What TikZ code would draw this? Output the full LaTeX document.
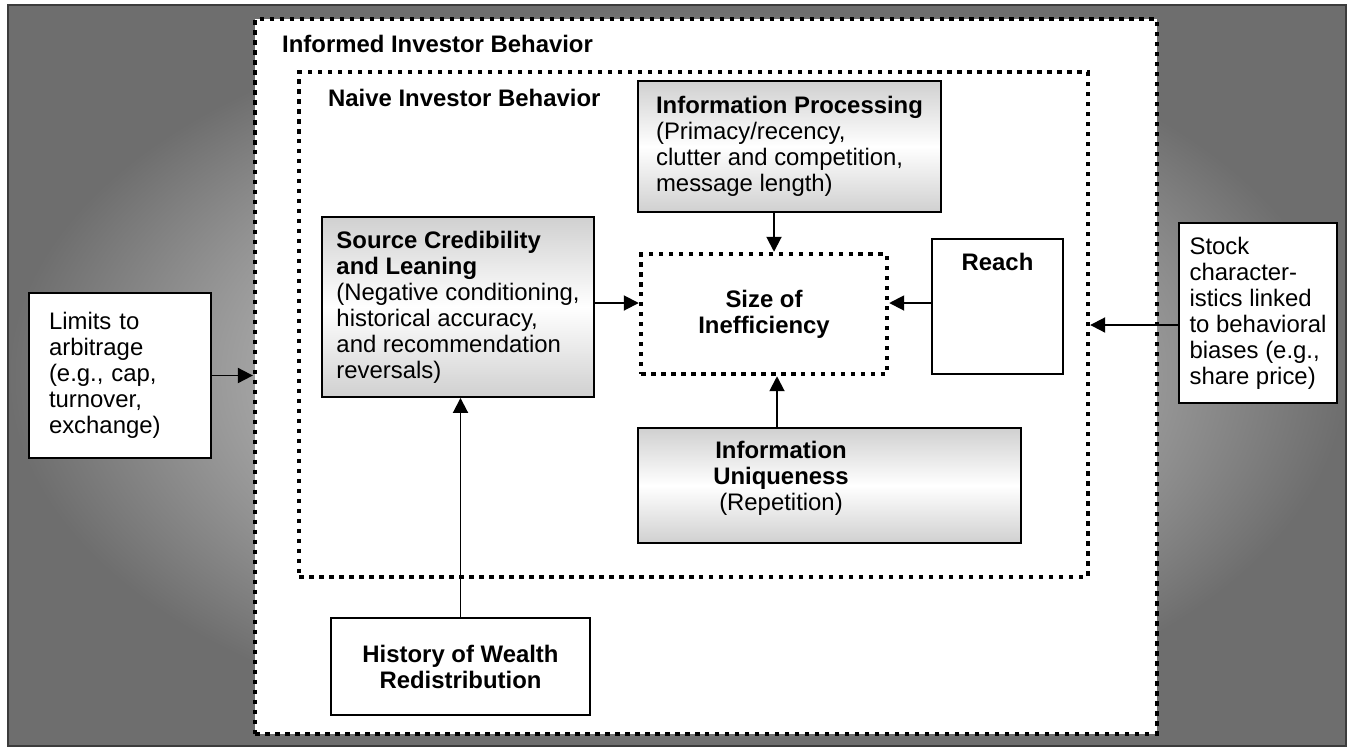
\documentclass[tikz,border=0pt]{standalone}
\usepackage{fontspec}
\setmainfont{Liberation Sans}
\definecolor{framegray}{RGB}{60,60,60}
\definecolor{bgdark}{RGB}{110,110,110}
\definecolor{bglight}{RGB}{250,250,250}
\definecolor{boxshade}{RGB}{208,208,208}
\usetikzlibrary{arrows.meta}
\newcommand{\diagfont}{\fontsize{13.6}{14.8}\selectfont}

\begin{document}
\begin{tikzpicture}[
  x=0.02cm, y=-0.02cm, font=\diagfont,
  zone/.style={draw=black, line width=0.09cm, dash pattern=on 0.09cm off 0.11cm, fill=white},
  gbox/.style={draw=black, line width=1.1pt, top color=boxshade, bottom color=boxshade,
    middle color=white, align=left},
  wbox/.style={draw=black, line width=1.1pt, fill=white, align=left},
  hdr/.style={font=\diagfont\bfseries},
  arw/.style={-{Triangle[length=0.3cm, width=0.3cm]}, line width=1.1pt},
]
\useasboundingbox (0,0) rectangle (1349,748);
\shade[inner color=bglight, outer color=bgdark, draw=framegray, line width=1.2pt] (8,5) rectangle (1346,746);

\node[zone, minimum width=18.04cm, minimum height=14.30cm] (informed) at (706,376.5) {};
\node[zone, minimum width=15.78cm, minimum height=10.10cm] (naive) at (693.5,324.5) {};
\node[hdr, anchor=base west] (informedlbl) at (276,52) {Informed Investor Behavior};
\node[hdr, anchor=base west] (naivelbl) at (322,106) {Naive Investor Behavior};

\node[gbox, minimum width=6.06cm, minimum height=2.62cm] (procs) at (789.5,146.5)
  {\textbf{Information Processing}\\(Primacy/recency,\\clutter and competition,\\message length)};
\node[gbox, minimum width=5.44cm, minimum height=3.60cm] (source) at (458,307)
  {\textbf{Source Credibility}\\\textbf{and Leaning}\\(Negative conditioning,\\historical accuracy,\\and recommendation\\reversals)};
\node[zone, hdr, align=center, minimum width=4.92cm, minimum height=2.40cm] (size) at (764,314)
  {Size of\\Inefficiency};
\node[wbox, minimum width=2.62cm, minimum height=2.70cm] (reach) at (997.5,306.5) {};
\node[hdr, anchor=base] (reachlbl) at (997.5,270) {Reach};
\node[gbox, minimum width=7.66cm, minimum height=2.30cm] (uniq) at (829.5,485.5) {};
\node[align=center] (uniqlbl) at (781,478)
  {\textbf{Information}\\\textbf{Uniqueness}\\(Repetition)};
\node[wbox, hdr, align=center, minimum width=5.18cm, minimum height=1.94cm] (history) at (460.5,666.5)
  {History of Wealth\\Redistribution};
\node[wbox, text width=2.84cm, inner xsep=0.4cm, minimum height=3.30cm] (limits) at (120,375.5)
  {Limits to\\arbitrage\\(e.g., cap,\\turnover,\\exchange)};
\node[wbox, minimum width=3.16cm, minimum height=3.60cm] (stock) at (1258,313)
  {Stock\\character-\\istics linked\\to behavioral\\biases (e.g.,\\share price)};

\draw[arw] (limits.east) -- (limits.east -| informed.west);
\draw[arw] (stock.west |- 0,325) -- (naive.east |- 0,325);
\draw[arw] (source.east |- 0,303) -- (size.west |- 0,303);
\draw[arw] (reach.west |- 0,303) -- (size.east |- 0,303);
\draw[arw] (procs.south -| 774,0) -- (size.north -| 774,0);
\draw[arw] (uniq.north -| 777,0) -- (size.south -| 777,0);
\draw[arw] (history.north) -- (source.south -| history.north);
\end{tikzpicture}
\end{document}
